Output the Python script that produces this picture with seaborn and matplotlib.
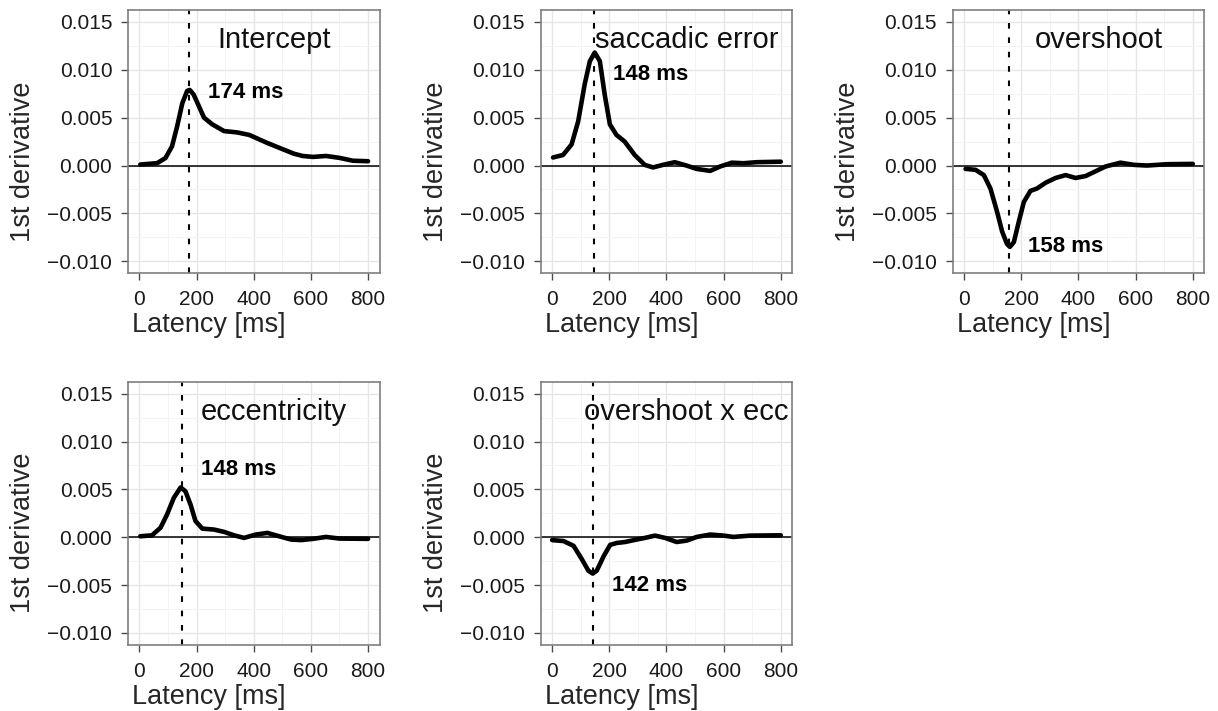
import numpy as np
import pandas as pd
import matplotlib
matplotlib.use("Agg")
import matplotlib.pyplot as plt
import seaborn as sns
from matplotlib.ticker import MultipleLocator, FixedLocator

sns.set_theme(style="white")
plt.rcParams['font.family'] = ['Liberation Sans', 'DejaVu Sans']

# ---- data ----
panel_titles = ["Intercept", "saccadic error", "overshoot", "eccentricity", "overshoot x ecc"]
peak_ms = [174, 148, 158, 148, 142]
label_y = [0.0076, 0.0095, -0.0085, 0.0071, -0.0050]

intercept_x = [3, 62, 91, 114, 132, 150, 167, 176, 190, 208, 226, 255, 296, 342, 384, 448, 506, 541, 571, 607, 653, 700, 747, 800]
intercept_y = [0.0001, 0.00025, 0.00078, 0.002, 0.0041, 0.0065, 0.0078, 0.0079, 0.0074, 0.0062, 0.005, 0.0043, 0.0036, 0.00346, 0.0032, 0.00235, 0.00165, 0.00123, 0.0010, 0.0009, 0.0010, 0.0008, 0.0005, 0.00045]

saccerr_x = [3, 38, 68, 91, 114, 132, 149, 167, 184, 202, 225, 254, 289, 324, 353, 388, 429, 470, 505, 553, 588, 629, 670, 716, 800]
saccerr_y = [0.00084, 0.0011, 0.0022, 0.0046, 0.0085, 0.0109, 0.0118, 0.0109, 0.0074, 0.0043, 0.0032, 0.0025, 0.0011, 0.00007, -0.0002, 0.00007, 0.00035, 0.0, -0.00035, -0.00056, -0.0001, 0.0003, 0.00024, 0.00035, 0.0004]

overshoot_x = [5, 40, 69, 92, 115, 133, 150, 160, 174, 191, 209, 232, 255, 285, 320, 355, 390, 425, 460, 495, 547, 594, 640, 710, 800]
overshoot_y = [-0.00035, -0.00045, -0.001, -0.0024, -0.0048, -0.0069, -0.0082, -0.0085, -0.008, -0.0059, -0.0038, -0.00265, -0.0024, -0.0018, -0.0013, -0.001, -0.0013, -0.0011, -0.0006, -0.0001, 0.0003, 0.00007, 0.0, 0.00014, 0.00017]

ecc_x = [3, 44, 74, 97, 120, 144, 161, 179, 196, 220, 261, 296, 331, 366, 407, 448, 489, 530, 566, 607, 653, 700, 800]
ecc_y = [0.0001, 0.0002, 0.001, 0.0024, 0.0041, 0.0052, 0.0048, 0.0034, 0.0017, 0.0009, 0.0008, 0.00056, 0.0002, -0.00007, 0.00028, 0.00045, 0.0001, -0.00024, -0.0003, -0.00017, 0.00003, -0.00014, -0.00017]

ovxecc_x = [0, 40, 75, 104, 127, 142, 156, 180, 203, 226, 255, 296, 325, 360, 395, 436, 471, 506, 553, 600, 634, 693, 800]
ovxecc_y = [-0.0003, -0.0004, -0.0009, -0.0023, -0.0035, -0.0038, -0.0035, -0.002, -0.0008, -0.0006, -0.0005, -0.00024, -0.00007, 0.00017, -0.00007, -0.0005, -0.00035, 0.00003, 0.00028, 0.00017, 0.00003, 0.00017, 0.0002]

xs = [intercept_x, saccerr_x, overshoot_x, ecc_x, ovxecc_x]
ys = [intercept_y, saccerr_y, overshoot_y, ecc_y, ovxecc_y]

x_ticks = [0, 200, 400, 600, 800]
y_ticks = [-0.010, -0.005, 0.000, 0.005, 0.010, 0.015]
y_tick_labels = ["\u22120.010", "\u22120.005", "0.000", "0.005", "0.010", "0.015"]

# ---- layout ----
fig = plt.figure(figsize=(12.18, 7.11), dpi=100)
W, H = 1218, 711
lefts = [128, 540.7, 952.7, 128, 540.7]
tops = [10, 10, 10, 381.7, 381.7]
pw, ph = 251.5, 263.2

border = "#7f7f7f"
for i in range(5):
    ax = fig.add_axes([lefts[i] / W, (H - tops[i] - ph) / H, pw / W, ph / H])
    df = pd.DataFrame({"latency": xs[i], "deriv": ys[i]})
    ax.axhline(0, color="black", lw=1.1, zorder=2)
    ax.axvline(peak_ms[i], color="black", lw=1.5, ls=(0, (2.7, 4.2)), zorder=2)
    sns.lineplot(data=df, x="latency", y="deriv", ax=ax, color="black", lw=3.3, zorder=3)
    ax.set_xlim(-40, 840)
    ax.set_ylim(-0.01125, 0.01625)
    ax.xaxis.set_major_locator(FixedLocator(x_ticks))
    ax.xaxis.set_minor_locator(MultipleLocator(100))
    ax.yaxis.set_major_locator(FixedLocator(y_ticks))
    ax.yaxis.set_minor_locator(MultipleLocator(0.0025))
    ax.set_xticklabels([str(t) for t in x_ticks])
    ax.set_yticklabels(y_tick_labels)
    ax.grid(which="major", color="#e6e6e6", lw=1.0, zorder=0)
    ax.grid(which="minor", color="#f3f3f3", lw=0.7, zorder=0)
    ax.set_axisbelow(True)
    for s in ax.spines.values():
        s.set_color(border)
        s.set_linewidth(1.2)
    ax.tick_params(axis="both", which="major", length=4.8, width=1.0, color="#4d4d4d",
                   labelsize=15, labelcolor="#1a1a1a", direction="out",
                   bottom=True, left=True)
    ax.tick_params(axis="x", which="major", pad=7.5)
    ax.tick_params(axis="y", which="major", pad=6.5)
    ax.tick_params(which="minor", length=0)
    ax.set_xlabel("Latency [ms]", fontsize=19.5)
    ax.set_ylabel("1st derivative", fontsize=19.5)
    ax.xaxis.set_label_coords(0.322, -0.198)
    ax.xaxis.label.set_va("center")
    ax.yaxis.set_label_coords(-0.4175, 0.425)
    ax.yaxis.label.set_va("center")
    ax.text(470, 0.0131, panel_titles[i], fontsize=21, ha="center", va="center", color="#111111")
    ax.text(peak_ms[i] + 66, label_y[i], f"{peak_ms[i]} ms", fontsize=16, fontweight="bold",
            ha="left", va="center", color="black")

fig.savefig("out.png", dpi=100)
